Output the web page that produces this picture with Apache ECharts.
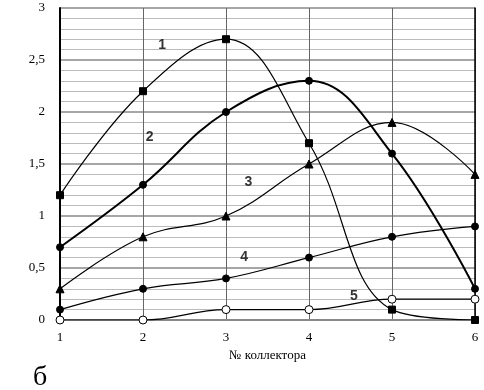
<!DOCTYPE html>
<html>
<head>
<meta charset="utf-8">
<script src="https://cdn.jsdelivr.net/npm/echarts@6/dist/echarts.min.js"></script>
<style>
  html, body { margin: 0; padding: 0; background: #fff; }
  #chart { width: 484px; height: 390px; }
</style>
</head>
<body>
<div id="chart"></div>
<script>
// номера коллекторов
var collectors = [1, 2, 3, 4, 5, 6];
var s1 = [1.2, 2.2, 2.7, 1.7, 0.1, 0];
var s2 = [0.7, 1.3, 2.0, 2.3, 1.6, 0.3];
var s3 = [0.3, 0.8, 1.0, 1.5, 1.9, 1.4];
var s4 = [0.1, 0.3, 0.4, 0.6, 0.8, 0.9];
var s5 = [0, 0, 0.1, 0.1, 0.2, 0.2];
// подписи кривых (x, y, текст)
var curveLabels = [[2.23, 2.64, '1'], [2.08, 1.76, '2'], [3.27, 1.33, '3'], [3.22, 0.6, '4'], [4.54, 0.23, '5']];

function pairs(arr) {
  return collectors.map(function (c, i) { return [c, arr[i]]; });
}

function lineSeries(name, arr, symbol, size, width, fill) {
  return {
    name: name,
    type: 'line',
    smooth: 0.4,
    symbol: symbol,
    symbolSize: size,
    showAllSymbol: true,
    lineStyle: { color: '#000', width: width },
    itemStyle: { color: fill, borderColor: '#000', borderWidth: 1 },
    data: pairs(arr),
    z: 3
  };
}

var chart = echarts.init(document.getElementById('chart'));
var serif = '"Liberation Serif", "DejaVu Serif", serif';

var option = {
  backgroundColor: '#fff',
  animation: false,
  grid: { left: 60, right: 9, top: 8, bottom: 70 },
  xAxis: {
    type: 'value',
    min: 1,
    max: 6,
    interval: 1,
    name: '№ коллектора',
    nameLocation: 'middle',
    nameGap: 28,
    nameTextStyle: { fontFamily: serif, fontSize: 13, color: '#000' },
    axisLine: { show: true, onZero: false, lineStyle: { color: '#888', width: 2 } },
    axisTick: { show: false },
    axisLabel: { fontFamily: serif, fontSize: 13, color: '#000', margin: 11 },
    splitLine: { show: true, lineStyle: { color: '#666', width: 1 } }
  },
  yAxis: [
    {
      type: 'value',
      min: 0,
      max: 3,
      interval: 0.5,
      axisLine: { show: true, lineStyle: { color: '#000', width: 2 } },
      axisTick: { show: false },
      axisLabel: {
        fontFamily: serif, fontSize: 13, color: '#000', margin: 15,
        formatter: function (v) { return String(v).replace('.', ','); }
      },
      splitLine: { show: true, lineStyle: { color: '#888', width: 1.5 } },
      minorTick: { show: false, splitNumber: 5 },
      minorSplitLine: { show: true, lineStyle: { color: '#bbb', width: 1 } }
    },
    {
      // правая рамка
      type: 'value',
      position: 'right',
      min: 0,
      max: 3,
      interval: 0.5,
      axisLine: { show: true, lineStyle: { color: '#000', width: 1.5 } },
      axisTick: { show: false },
      axisLabel: { show: false },
      splitLine: { show: false }
    }
  ],
  series: [
    lineSeries('1', s1, 'rect', 7, 1.2, '#000'),
    lineSeries('2', s2, 'circle', 7, 2, '#000'),
    lineSeries('3', s3, 'triangle', 8, 1.2, '#000'),
    lineSeries('4', s4, 'circle', 7, 1.2, '#000'),
    lineSeries('5', s5, 'circle', 8, 1.2, '#fff'),
    {
      type: 'scatter',
      symbolSize: 0,
      silent: true,
      data: curveLabels,
      label: {
        show: true,
        position: 'inside',
        formatter: function (p) { return p.value[2]; },
        fontFamily: '"Liberation Sans", Arial, sans-serif',
        fontWeight: 'bold',
        fontSize: 14,
        color: '#000'
      }
    }
  ],
  graphic: [
    {
      type: 'text',
      left: 33,
      top: 364,
      style: { text: 'б', font: '28px "Liberation Serif", serif', fill: '#000' }
    }
  ]
};

chart.setOption(option);
</script>
</body>
</html>
